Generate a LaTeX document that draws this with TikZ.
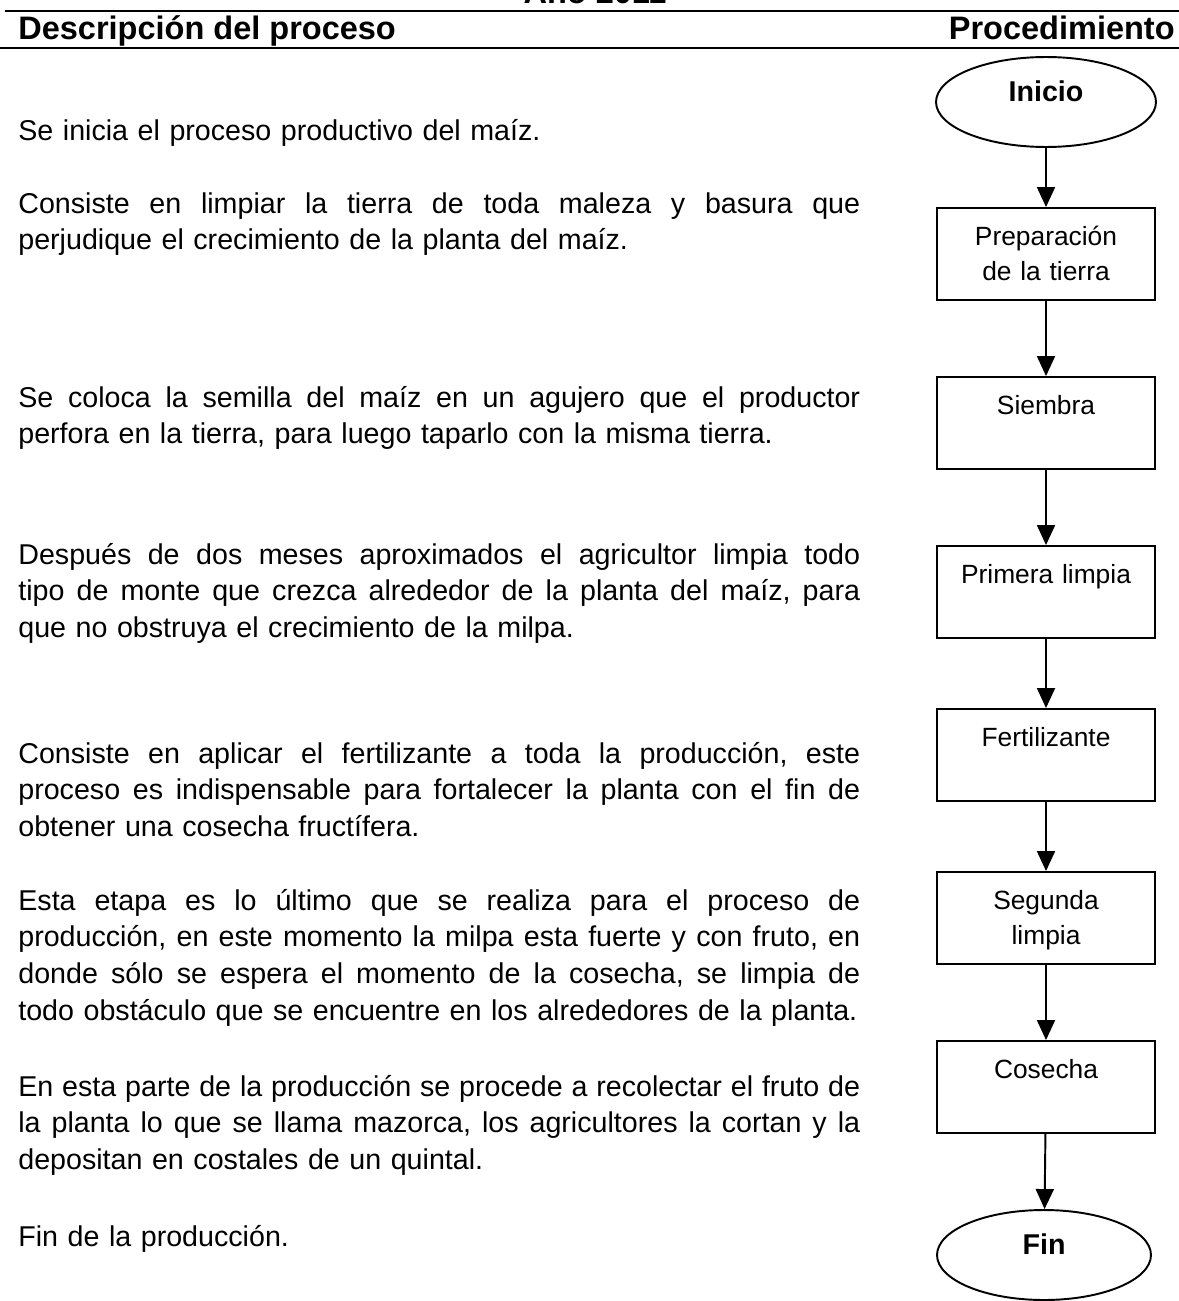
\documentclass[tikz,border=0pt]{standalone}
\usepackage{fontspec}
\setmainfont{Liberation Sans}
\usetikzlibrary{shapes.geometric,arrows.meta}
\newcommand{\jl}[1]{\leavevmode\hbox to 16.84cm{\frenchspacing\spaceskip=\fontdimen2\font plus 1fil\relax #1}}

\begin{document}
\begin{tikzpicture}[x=0.02cm,y=-0.02cm,
hdr/.style = {font=\fontsize{18.5}{22}\selectfont\bfseries,inner sep=0},
desc/.style = {font=\fontsize{16.3}{21}\selectfont,text width=16.84cm,align=left,inner sep=0,anchor=base west},
trm/.style = {draw,ellipse,line width=1.1pt,minimum width=4.4cm,minimum height=1.8cm,inner sep=0,font=\fontsize{16.3}{18}\selectfont\bfseries,text depth=0.42cm},
prc/.style = {draw,rectangle,line width=1.1pt,minimum width=4.36cm,inner sep=0,text width=4.2cm,align=center,text height=0.74cm,text depth=1.1cm,font=\fontsize{15}{20}\selectfont},
flw/.style = {draw,line width=1.1pt,-{Triangle[length=0.4cm,width=0.36cm]}},
rul/.style = {draw,line width=1.1pt}
]
  \useasboundingbox (0,0) rectangle (1179,1301);

  % encabezado
  \node[hdr,anchor=base] (yr) at (595,4) {Año 2011};
  \path[rul] (5,11) -- (1179,11);
  \path[rul] (0,48) -- (1179,48);
  \node[hdr,anchor=base west] (hd1) at (18,40) {Descripción del proceso};
  \node[hdr,anchor=base east] (hd2) at (1175,40) {Procedimiento};

  % descripciones
  \node[desc] (d1) at (18,140) {Se inicia el proceso productivo del maíz.};
  \node[desc] (d2) at (18,213) {\jl{Consiste en limpiar la tierra de toda maleza y basura que}\\perjudique el crecimiento de la planta del maíz.};
  \node[desc] (d3) at (18,407) {\jl{Se coloca la semilla del maíz en un agujero que el productor}\\perfora en la tierra, para luego taparlo con la misma tierra.};
  \node[desc] (d4) at (18,564) {\jl{Después de dos meses aproximados el agricultor limpia todo}\\\jl{tipo de monte que crezca alrededor de la planta del maíz, para}\\que no obstruya el crecimiento de la milpa.};
  \node[desc] (d5) at (18,763) {\jl{Consiste en aplicar el fertilizante a toda la producción, este}\\\jl{proceso es indispensable para fortalecer la planta con el fin de}\\obtener una cosecha fructífera.};
  \node[desc] (d6) at (18,910) {\jl{Esta etapa es lo último que se realiza para el proceso de}\\\jl{producción, en este momento la milpa esta fuerte y con fruto, en}\\\jl{donde sólo se espera el momento de la cosecha, se limpia de}\\\mbox{todo obstáculo que se encuentre en los alrededores de la planta.}};
  \node[desc] (d7) at (18,1096) {\jl{En esta parte de la producción se procede a recolectar el fruto de}\\\jl{la planta lo que se llama mazorca, los agricultores la cortan y la}\\depositan en costales de un quintal.};
  \node[desc] (d8) at (18,1246) {Fin de la producción.};

  % procedimiento
  \node[trm] (ini) at (1046,102) {Inicio};
  \node[prc] (prep) at (1046,254) {Preparación\\de la tierra};
  \node[prc] (siem) at (1046,423) {Siembra};
  \node[prc] (lim1) at (1046,592) {Primera limpia};
  \node[prc] (fert) at (1046,755) {Fertilizante};
  \node[prc] (lim2) at (1046,918) {Segunda\\limpia};
  \node[prc] (cos) at (1046,1087) {Cosecha};
  \node[trm,minimum width=4.28cm] (fin) at (1044,1255) {Fin};

  \path[flw] (ini) -- (prep);
  \path[flw] (prep) -- (siem);
  \path[flw] (siem) -- (lim1);
  \path[flw] (lim1) -- (fert);
  \path[flw] (fert) -- (lim2);
  \path[flw] (lim2) -- (cos);
  \path[flw] (cos) -- (fin);

\end{tikzpicture}
\end{document}
